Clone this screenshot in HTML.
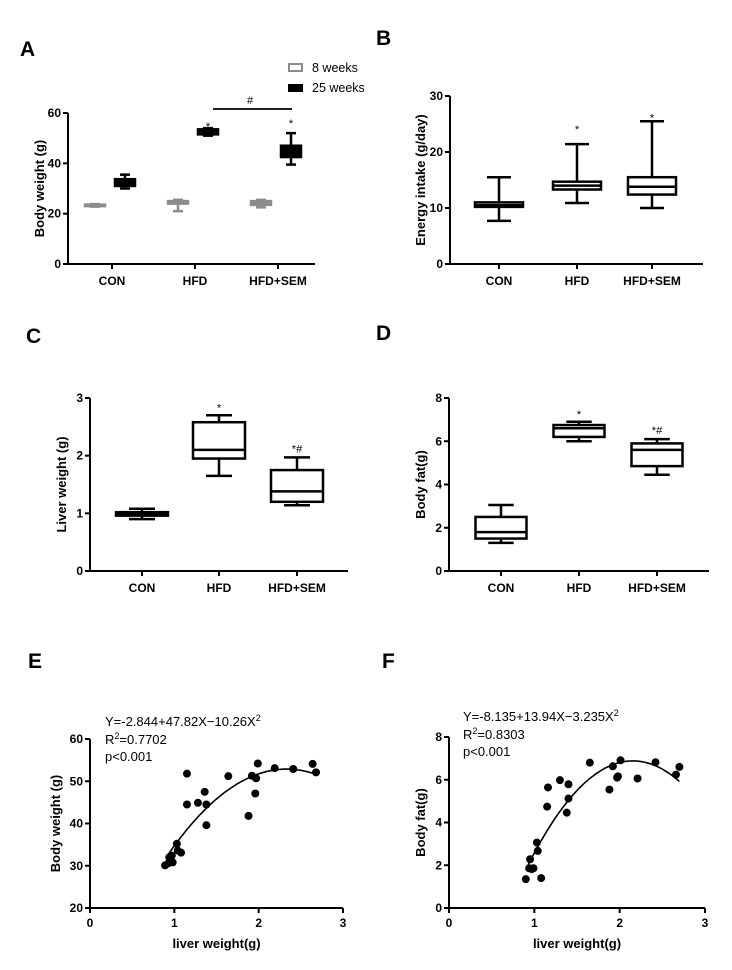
<!DOCTYPE html>
<html><head><meta charset="utf-8"><style>
html,body{margin:0;padding:0;background:#fff;}
svg{display:block;font-family:"Liberation Sans",Arial,sans-serif;}
.tk{font-size:12px;font-weight:bold;}
.ax{font-size:13px;font-weight:bold;}
.lt{font-size:21px;font-weight:bold;}
.eq{font-size:13px;}
</style></head><body>
<svg id="fig" width="732" height="970" viewBox="0 0 732 970"></svg>
<script>
// ---- Data ----
const groups = ["CON","HFD","HFD+SEM"];
// Panel A: [min,q1,median,q3,max]
const bw8 = [[22.8,23,23.2,23.6,23.8],[21,24,24.5,25,25.5],[22.5,23.5,24.2,25,25.5]];
const bw25 = [[30,31,32.5,33.7,35.5],[51,51.5,52.5,53.5,54],[39.5,42.5,45,47,52]];
const energy = [[7.7,10.2,10.5,11,15.5],[10.9,13.3,14,14.7,21.4],[10,12.4,13.8,15.5,25.5]];
const liver = [[0.9,0.96,1.0,1.02,1.08],[1.65,1.95,2.1,2.58,2.7],[1.14,1.2,1.38,1.75,1.97]];
const fat = [[1.3,1.5,1.8,2.5,3.05],[6.0,6.2,6.6,6.75,6.9],[4.45,4.85,5.6,5.9,6.1]];
const yTicksA = [0,20,40,60];
const yTicksB = [0,10,20,30];
const yTicksC = [0,1,2,3];
const yTicksD = [0,2,4,6,8];
const xTicksEF = [0,1,2,3];
const yTicksE = [20,30,40,50,60];
const yTicksF = [0,2,4,6,8];
const eX = [0.89,0.93,0.95,0.98,0.94,0.97,1.03,1.04,1.08,1.15,1.15,1.28,1.36,1.38,1.38,1.64,1.88,1.92,1.97,1.96,1.99,2.19,2.41,2.64,2.68];
const eY = [30.1,30.6,31.2,30.8,32.0,32.4,35.2,33.6,33.1,51.8,44.5,44.9,47.5,44.5,39.6,51.2,41.8,51.3,50.7,47.1,54.2,53.1,52.9,54.1,52.1];
const fX = [0.90,0.94,0.95,0.97,0.99,1.08,1.03,1.04,1.15,1.16,1.30,1.38,1.40,1.40,1.65,1.88,1.92,1.97,1.98,2.01,2.21,2.42,2.66,2.70];
const fY = [1.35,1.86,2.28,1.82,1.86,1.40,3.06,2.67,4.74,5.64,5.98,4.46,5.79,5.12,6.80,5.54,6.63,6.10,6.16,6.91,6.06,6.82,6.24,6.60];
const eCoef = [-2.844,47.82,-10.26];
const fCoef = [-8.135,13.94,-3.235];

const NS="http://www.w3.org/2000/svg";
const svg=document.getElementById('fig');
function mk(tag,attrs,parent,txt){const e=document.createElementNS(NS,tag);for(const k in attrs)e.setAttribute(k,attrs[k]);if(txt!==undefined)e.textContent=txt;(parent||svg).appendChild(e);return e;}
function lin(d0,d1,r0,r1){return v=>r0+(v-d0)*(r1-r0)/(d1-d0);}

function axes(g,x0,x1,y,yTicks,xTickPos,xLabels,yTitle,yTitleX,xTitle){
  const ymin=yTicks[0];
  mk('line',{x1:x0,y1:y(yTicks[yTicks.length-1]),x2:x0,y2:y(ymin),stroke:'#000','stroke-width':2},g);
  mk('line',{x1:x0,y1:y(ymin),x2:x1,y2:y(ymin),stroke:'#000','stroke-width':2},g);
  yTicks.forEach(t=>{
    mk('line',{x1:x0-5,y1:y(t),x2:x0,y2:y(t),stroke:'#000','stroke-width':2},g);
    const tx=mk('text',{x:x0-7,y:y(t)+4,'text-anchor':'end',class:'tk'},g,String(t));
    
    
  });
  xTickPos.forEach((p,i)=>{
    mk('line',{x1:p,y1:y(ymin),x2:p,y2:y(ymin)+5,stroke:'#000','stroke-width':2},g);
    const tx=mk('text',{x:p,y:y(ymin)+(xTitle?19:21),'text-anchor':'middle',class:'tk'},g,xLabels[i]);
    
    
  });
  const cy=(y(ymin)+y(yTicks[yTicks.length-1]))/2;
  const yt=mk('text',{x:yTitleX,y:cy,'text-anchor':'middle',class:'ax',transform:`rotate(-90 ${yTitleX} ${cy})`},g,yTitle);
  
  
  if(xTitle){
    const xt=mk('text',{x:(x0+x1)/2,y:y(ymin)+40,'text-anchor':'middle',class:'ax'},g,xTitle);
    
    
  }
}
function box(g,cx,w,d,y,color,fill,name){
  const b=mk('g',{},g);
  
  
  const sw=2.5;
  mk('line',{x1:cx,y1:y(d[0]),x2:cx,y2:y(d[4]),stroke:color,'stroke-width':sw},b);
  mk('line',{x1:cx-w/4,y1:y(d[0]),x2:cx+w/4,y2:y(d[0]),stroke:color,'stroke-width':sw},b);
  mk('line',{x1:cx-w/4,y1:y(d[4]),x2:cx+w/4,y2:y(d[4]),stroke:color,'stroke-width':sw},b);
  mk('rect',{x:cx-w/2,y:y(d[3]),width:w,height:Math.max(1,y(d[1])-y(d[3])),fill:fill,stroke:color,'stroke-width':sw},b);
  mk('line',{x1:cx-w/2,y1:y(d[2]),x2:cx+w/2,y2:y(d[2]),stroke:color,'stroke-width':sw},b);
}
function letter(x,y,t){const e=mk('text',{x:x,y:y,class:'lt'},svg,t);}
function star(g,x,y,t){const e=mk('text',{x:x,y:y,'text-anchor':'middle','font-size':'11px'},g,t);}

// ---- Panel A ----
letter(20,56,'A');
{
 const g=mk('g',{});
 const y=lin(0,60,264,113);
 const cat=[112,195,278];
 axes(g,68,315,y,yTicksA,cat,groups,'Body weight (g)',44);
 groups.forEach((n,i)=>{
   box(g,cat[i]-17,20,bw8[i],y,'#8c8c8c','#8c8c8c','box-8wk-'+n.toLowerCase());
   box(g,cat[i]+13,20,bw25[i],y,'#000','#000','box-25wk-'+n.toLowerCase());
 });
 star(g,cat[1]+13,y(bw25[1][4])+2,'*');
 star(g,cat[2]+13,y(bw25[2][4])-6,'*');
 mk('line',{x1:213,y1:109,x2:292,y2:109,stroke:'#000','stroke-width':1.8},g);
 star(g,250,104,'#');
 const l1=mk('rect',{x:289,y:64,width:13,height:7,fill:'#fff',stroke:'#8c8c8c','stroke-width':2},g);
 
 const t1=mk('text',{x:312,y:72,'font-size':'12.5px'},g,'8 weeks');
 const l2=mk('rect',{x:288,y:84,width:15,height:8,fill:'#000'},g);
 
 const t2=mk('text',{x:312,y:92,'font-size':'12.5px'},g,'25 weeks');
}
// ---- Panel B ----
letter(376,45,'B');
{
 const g=mk('g',{});
 const y=lin(0,30,264,96);
 const cat=[499,577,652];
 axes(g,450,703,y,yTicksB,cat,groups,'Energy intake (g/day)',425);
 groups.forEach((n,i)=>box(g,cat[i],48,energy[i],y,'#000','#fff','box-'+n.toLowerCase()));
 star(g,cat[1],y(24.5)+6,'*');star(g,cat[2],y(26.5)+6,'*');
}
// ---- Panel C ----
letter(26,343,'C');
{
 const g=mk('g',{});
 const y=lin(0,3,571,398);
 const cat=[142,219,297];
 axes(g,90,348,y,yTicksC,cat,groups,'Liver weight (g)',66);
 groups.forEach((n,i)=>box(g,cat[i],52,liver[i],y,'#000','#fff','box-'+n.toLowerCase()));
 star(g,cat[1],y(2.7)-4,'*');star(g,cat[2],y(1.97)-5,'*#');
}
// ---- Panel D ----
letter(376,340,'D');
{
 const g=mk('g',{});
 const y=lin(0,8,571,398);
 const cat=[501,579,657];
 axes(g,449,709,y,yTicksD,cat,groups,'Body fat(g)',425);
 groups.forEach((n,i)=>box(g,cat[i],51,fat[i],y,'#000','#fff','box-'+n.toLowerCase()));
 star(g,cat[1],y(6.9)-4,'*');star(g,cat[2],y(6.1)-5,'*#');
}
// ---- Scatter panels ----
function scatter(name,x0,x1,yb,yt,yTicks,xs,ys,coef,yTitle,yTitleX,eqX,eqY,eqText,r2){
 const g=mk('g',{});
 const x=lin(0,3,x0,x1);
 const y=lin(yTicks[0],yTicks[yTicks.length-1],yb,yt);
 axes(g,x0,x1,y,yTicks,xTicksEF.map(x),xTicksEF.map(String),yTitle,yTitleX,'liver weight(g)');
 let d='';
 for(let v=0.9;v<=2.7001;v+=0.02){const yy=coef[0]+coef[1]*v+coef[2]*v*v;d+=(d?'L':'M')+x(v).toFixed(1)+' '+y(yy).toFixed(1);}
 const c=mk('path',{d:d,fill:'none',stroke:'#000','stroke-width':1.6},g);
 
 xs.forEach((v,i)=>{const p=mk('circle',{cx:x(v),cy:y(ys[i]),r:4,fill:'#000'},g);
   });
 const t=mk('text',{x:eqX,y:eqY,class:'eq'},g);
 t.appendChild(document.createTextNode(eqText));
 mk('tspan',{dy:-5,'font-size':'9px'},t,'2');
 const t2=mk('text',{x:eqX,y:eqY+18,class:'eq'},g);
 t2.appendChild(document.createTextNode('R'));mk('tspan',{dy:-5,'font-size':'9px'},t2,'2');mk('tspan',{dy:5},t2,'='+r2);
 const t3=mk('text',{x:eqX,y:eqY+35,class:'eq'},g,'p<0.001');
}
letter(28,668,'E');
scatter('panel-e-scatter',90,343,908,739,yTicksE,eX,eY,eCoef,'Body weight (g)',60,105,726,'Y=-2.844+47.82X\u221210.26X','0.7702');
letter(382,668,'F');
scatter('panel-f-scatter',449,705,908,737,yTicksF,fX,fY,fCoef,'Body fat(g)',425,463,721,'Y=-8.135+13.94X\u22123.235X','0.8303');
</script>
</body></html>
